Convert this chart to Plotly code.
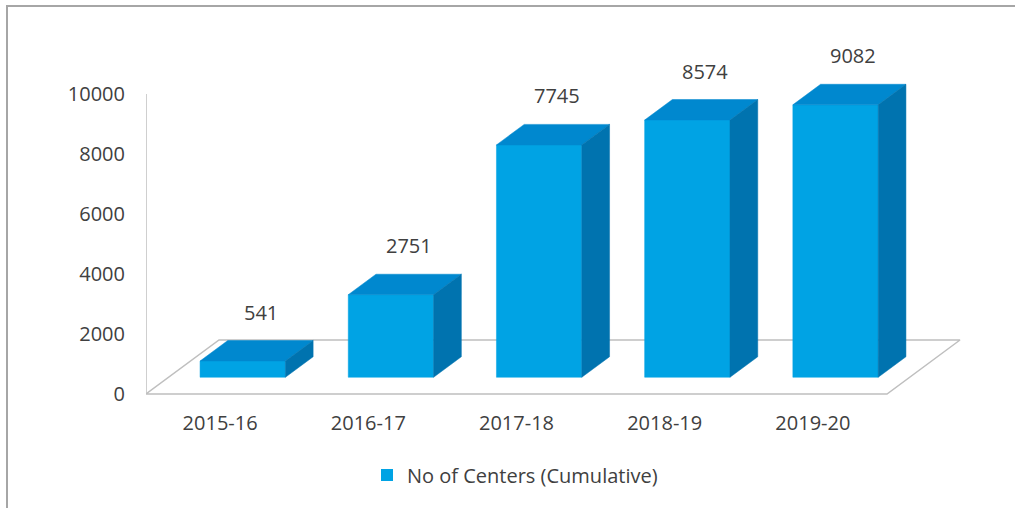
import plotly.graph_objects as go

# ---------------- data ----------------
categories = ["2015-16", "2016-17", "2017-18", "2018-19", "2019-20"]
centers = [541, 2751, 7745, 8574, 9082]
series_name = "No of Centers (Cumulative)"
y_ticks = [0, 2000, 4000, 6000, 8000, 10000]

# ---------------- style / layout constants ----------------
FIG_W, FIG_H = 1015, 508
M_L, M_R, M_T, M_B = 146, 45, 40, 110
PX_PER_CAT = 148.2          # pixels per category on the floor front edge
PX_PER_VAL = 0.03           # pixels per unit of value
FLOOR_PX_FROM_BOTTOM = 4    # floor front edge above plot bottom
DEPTH_PX_X, DEPTH_PX_Y = 73, 54   # oblique depth of the floor in pixels

plot_w = FIG_W - M_L - M_R
plot_h = FIG_H - M_T - M_B
x_range = [0, plot_w / PX_PER_CAT]
y_min = -FLOOR_PX_FROM_BOTTOM / PX_PER_VAL
y_range = [y_min, y_min + plot_h / PX_PER_VAL]

DX = DEPTH_PX_X / PX_PER_CAT      # depth projection in category units
DY = DEPTH_PX_Y / PX_PER_VAL      # depth projection in value units

BAR_HALF = 0.288
D0, D1 = 0.31, 0.69               # bar depth (fraction of floor depth)

C_FRONT = "#00A3E4"
C_TOP = "#0088CF"
C_SIDE = "#0073AF"
C_EDGE = "#BFBFBF"
C_TEXT = "#404040"
FONT = "Open Sans"
FS = 20


def proj(c, v, d):
    """project (category position, value, depth fraction) to data x/y"""
    return c + d * DX, v + d * DY


fig = go.Figure()

# floor
n = len(categories)
fx, fy = zip(*[proj(0, 0, 0), proj(n, 0, 0), proj(n, 0, 1), proj(0, 0, 1), proj(0, 0, 0)])
fig.add_trace(go.Scatter(x=list(fx), y=list(fy), mode="lines", fill="toself",
                         fillcolor="white", line=dict(color=C_EDGE, width=1.5),
                         showlegend=False, hoverinfo="skip"))

# vertical axis line
ax_x, ax_y = zip(proj(0, 0, 0), proj(0, max(y_ticks), 0))
fig.add_trace(go.Scatter(x=list(ax_x), y=list(ax_y), mode="lines",
                         line=dict(color=C_EDGE, width=1.5),
                         showlegend=False, hoverinfo="skip"))


def poly(pts, color):
    xs = [p[0] for p in pts] + [pts[0][0]]
    ys = [p[1] for p in pts] + [pts[0][1]]
    fig.add_trace(go.Scatter(x=xs, y=ys, mode="lines", fill="toself",
                             fillcolor=color, line=dict(color=color, width=0.5),
                             showlegend=False, hoverinfo="skip"))


for i, (cat, v) in enumerate(zip(categories, centers)):
    cl, cr = i + 0.5 - BAR_HALF, i + 0.5 + BAR_HALF
    # front face
    poly([proj(cl, 0, D0), proj(cr, 0, D0), proj(cr, v, D0), proj(cl, v, D0)], C_FRONT)
    # top face
    poly([proj(cl, v, D0), proj(cr, v, D0), proj(cr, v, D1), proj(cl, v, D1)], C_TOP)
    # side face
    poly([proj(cr, 0, D0), proj(cr, v, D0), proj(cr, v, D1), proj(cr, 0, D1)], C_SIDE)
    # value label
    lx, _ = proj(i + 0.5, v, (D0 + D1) / 2)
    _, ly_top = proj(i + 0.5, v, D1)
    fig.add_annotation(x=lx, y=ly_top, text=str(v), showarrow=False,
                       xanchor="center", yanchor="bottom", xshift=4, yshift=13,
                       font=dict(family=FONT, size=FS, color=C_TEXT))

# legend entry
fig.add_trace(go.Scatter(x=[None], y=[None], mode="markers", name=series_name,
                         marker=dict(symbol="square", size=12, color=C_FRONT)))

# chart border (top and left visible)
fig.add_shape(type="rect", xref="paper", yref="paper",
              x0=(7 - M_L) / plot_w, x1=(FIG_W + 20 - M_L) / plot_w,
              y0=-(FIG_H + 20 - M_T - plot_h) / plot_h, y1=(FIG_H - 6 - M_B) / plot_h,
              line=dict(color="#A6A6A6", width=2), layer="below")

fig.update_layout(
    width=FIG_W, height=FIG_H,
    margin=dict(l=M_L, r=M_R, t=M_T, b=M_B, autoexpand=False),
    paper_bgcolor="white", plot_bgcolor="white",
    font=dict(family=FONT, size=FS, color=C_TEXT),
    showlegend=True,
    legend=dict(orientation="h", xref="container", yref="container",
                x=515 / FIG_W, xanchor="center", y=1 - 475 / FIG_H, yanchor="middle",
                font=dict(family=FONT, size=FS, color=C_TEXT), itemwidth=30),
    xaxis=dict(range=x_range, showgrid=False, zeroline=False, showline=False,
               tickvals=[i + 0.5 for i in range(n)], ticktext=categories,
               ticks="", ticklabelstandoff=11, fixedrange=True, automargin=False),
    yaxis=dict(range=y_range, showgrid=False, zeroline=False, showline=False,
               tickvals=y_ticks, ticktext=[str(t) for t in y_ticks],
               ticks="", ticklabelstandoff=20, fixedrange=True, automargin=False),
)

fig.write_html("out.html", config={"displayModeBar": False},
               post_script="document.body.style.margin='0';document.body.style.overflow='hidden';")
